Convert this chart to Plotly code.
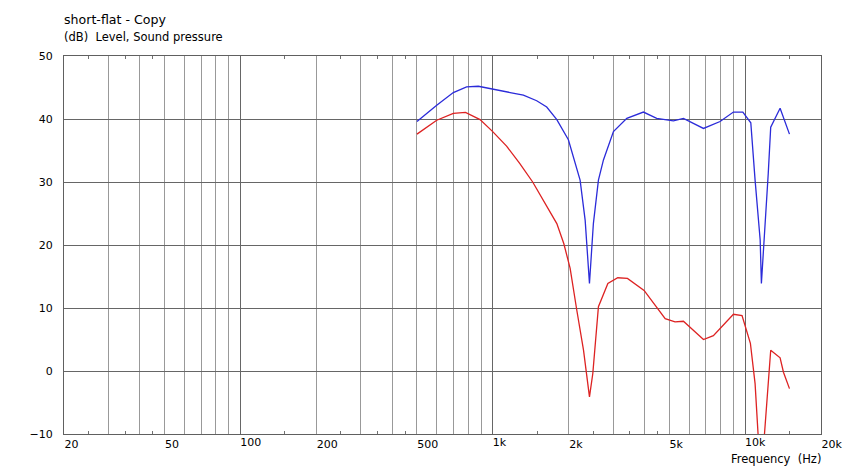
import math
import plotly.graph_objects as go

# ---- data ----
freq_blue = [501, 600, 698, 788, 877, 1000, 1172, 1323, 1494, 1637, 1795, 1995, 2220, 2325, 2418,
             2506, 2624, 2747, 3009, 3400, 3956, 4467, 5200, 5700, 6843, 7962, 8994, 9800, 10540,
             10960, 11480, 11610, 11890, 12360, 12640, 13770, 15000]
spl_blue = [39.6, 42.2, 44.2, 45.1, 45.2, 44.8, 44.2, 43.8, 42.9, 41.9, 39.9, 36.7, 30.3, 23.9, 13.9,
            23.4, 30.3, 33.5, 38.0, 40.1, 41.1, 40.1, 39.7, 40.1, 38.5, 39.6, 41.1, 41.1, 39.4,
            30.3, 20.8, 13.9, 20.2, 31.4, 38.7, 41.7, 37.6]

freq_red = [501, 600, 698, 780, 891, 1000, 1135, 1277, 1440, 1637, 1795, 1914, 2027, 2155, 2290,
            2418, 2493, 2624, 2860, 3130, 3420, 3980, 4825, 5280, 5700, 6843, 7490, 8994, 9730,
            10500, 10960, 11300, 11600, 11890, 12360, 12640, 13770, 14200, 15000]
spl_red = [37.6, 39.8, 40.9, 41.05, 39.9, 38.0, 35.7, 33.0, 30.0, 26.1, 23.4, 20.2, 16.3, 9.6, 3.3,
           -4.1, -0.4, 10.2, 13.9, 14.8, 14.7, 12.8, 8.3, 7.8, 7.9, 5.0, 5.6, 9.0, 8.8,
           4.4, -2.0, -11.0, -13.0, -11.0, -0.9, 3.3, 2.1, -0.2, -2.8]

grid_minor_vals = [20, 30, 40, 50, 60, 70, 80, 90, 200, 300, 400, 500, 600, 700, 800, 900,
                   2000, 3000, 4000, 5000, 6000, 7000, 8000, 9000, 20000]
grid_minor_text = ["20", "", "", "50", "", "", "", "", "200", "", "", "500", "", "", "", "",
                   "2k", "", "", "5k", "", "", "", "", "20k"]
grid_decade_vals = [100, 1000, 10000]
grid_decade_text = ["100", "1k", "10k"]
small_tick_vals = [25, 35, 45, 150, 250, 350, 450, 1500, 2500, 3500, 4500, 15000]

title_text = "short-flat - Copy"
ylabel_text = "(dB)  Level, Sound pressure"
xlabel_text = "Frequency  (Hz)"

FONT = "DejaVu Sans, Verdana, sans-serif"

fig = go.Figure()
fig.add_trace(go.Scatter(x=freq_blue, y=spl_blue, mode="lines",
                         line=dict(color="#2b2bd9", width=1.3), xaxis="x2", showlegend=False))
fig.add_trace(go.Scatter(x=freq_red, y=spl_red, mode="lines",
                         line=dict(color="#dd2222", width=1.3), showlegend=False))

xr = [math.log10(20), math.log10(20000)]

fig.update_layout(
    width=844, height=469,
    margin=dict(l=64, r=23, t=56, b=35, autoexpand=False),
    paper_bgcolor="white", plot_bgcolor="white",
    font=dict(family=FONT, size=11, color="#000"),
    xaxis=dict(type="log", range=xr, tickmode="array", tickvals=grid_minor_vals,
               ticktext=grid_minor_text, ticks="", showgrid=True, gridcolor="#999999", gridwidth=1,
               showline=True, linecolor="#606060", linewidth=1, mirror="ticks",
               ticklabelposition="outside right", zeroline=False, automargin=False,
               tickfont=dict(family=FONT, size=11, color="#000"),
               minor=dict(tickmode="array", tickvals=small_tick_vals, ticks="inside",
                          ticklen=3, tickcolor="#707070", tickwidth=1, showgrid=False)),
    xaxis2=dict(type="log", range=xr, overlaying="x", side="bottom", tickmode="array",
                tickvals=grid_decade_vals, ticktext=grid_decade_text, ticks="",
                showgrid=True, gridcolor="#666666", gridwidth=1, showline=False,
                ticklabelposition="outside right", zeroline=False, automargin=False,
                tickfont=dict(family=FONT, size=11, color="#000")),
    yaxis=dict(range=[-10, 50], tickmode="linear", tick0=-10, dtick=10, ticks="",
               showgrid=True, gridcolor="#666666", gridwidth=1, zeroline=False,
               showline=True, linecolor="#606060", linewidth=1, mirror=True, automargin=False,
               ticklabelstandoff=8, tickfont=dict(family=FONT, size=11, color="#000")),
    annotations=[
        dict(text=title_text, xref="paper", yref="paper", x=0, y=1, xanchor="left",
             yanchor="bottom", yshift=27, xshift=-2, showarrow=False,
             font=dict(family=FONT, size=12.6, color="#000")),
        dict(text=ylabel_text, xref="paper", yref="paper", x=0, y=1, xanchor="left",
             yanchor="bottom", yshift=10, xshift=-2, showarrow=False,
             font=dict(family=FONT, size=11.5, color="#000")),
        dict(text=xlabel_text, xref="paper", yref="paper", x=1, y=0, xanchor="right",
             yanchor="top", yshift=-16, xshift=2, showarrow=False,
             font=dict(family=FONT, size=11.5, color="#000")),
    ],
)

fig.write_html("out.html", config={"displayModeBar": False},
               post_script="document.body.style.margin='0';document.body.style.padding='0';")
